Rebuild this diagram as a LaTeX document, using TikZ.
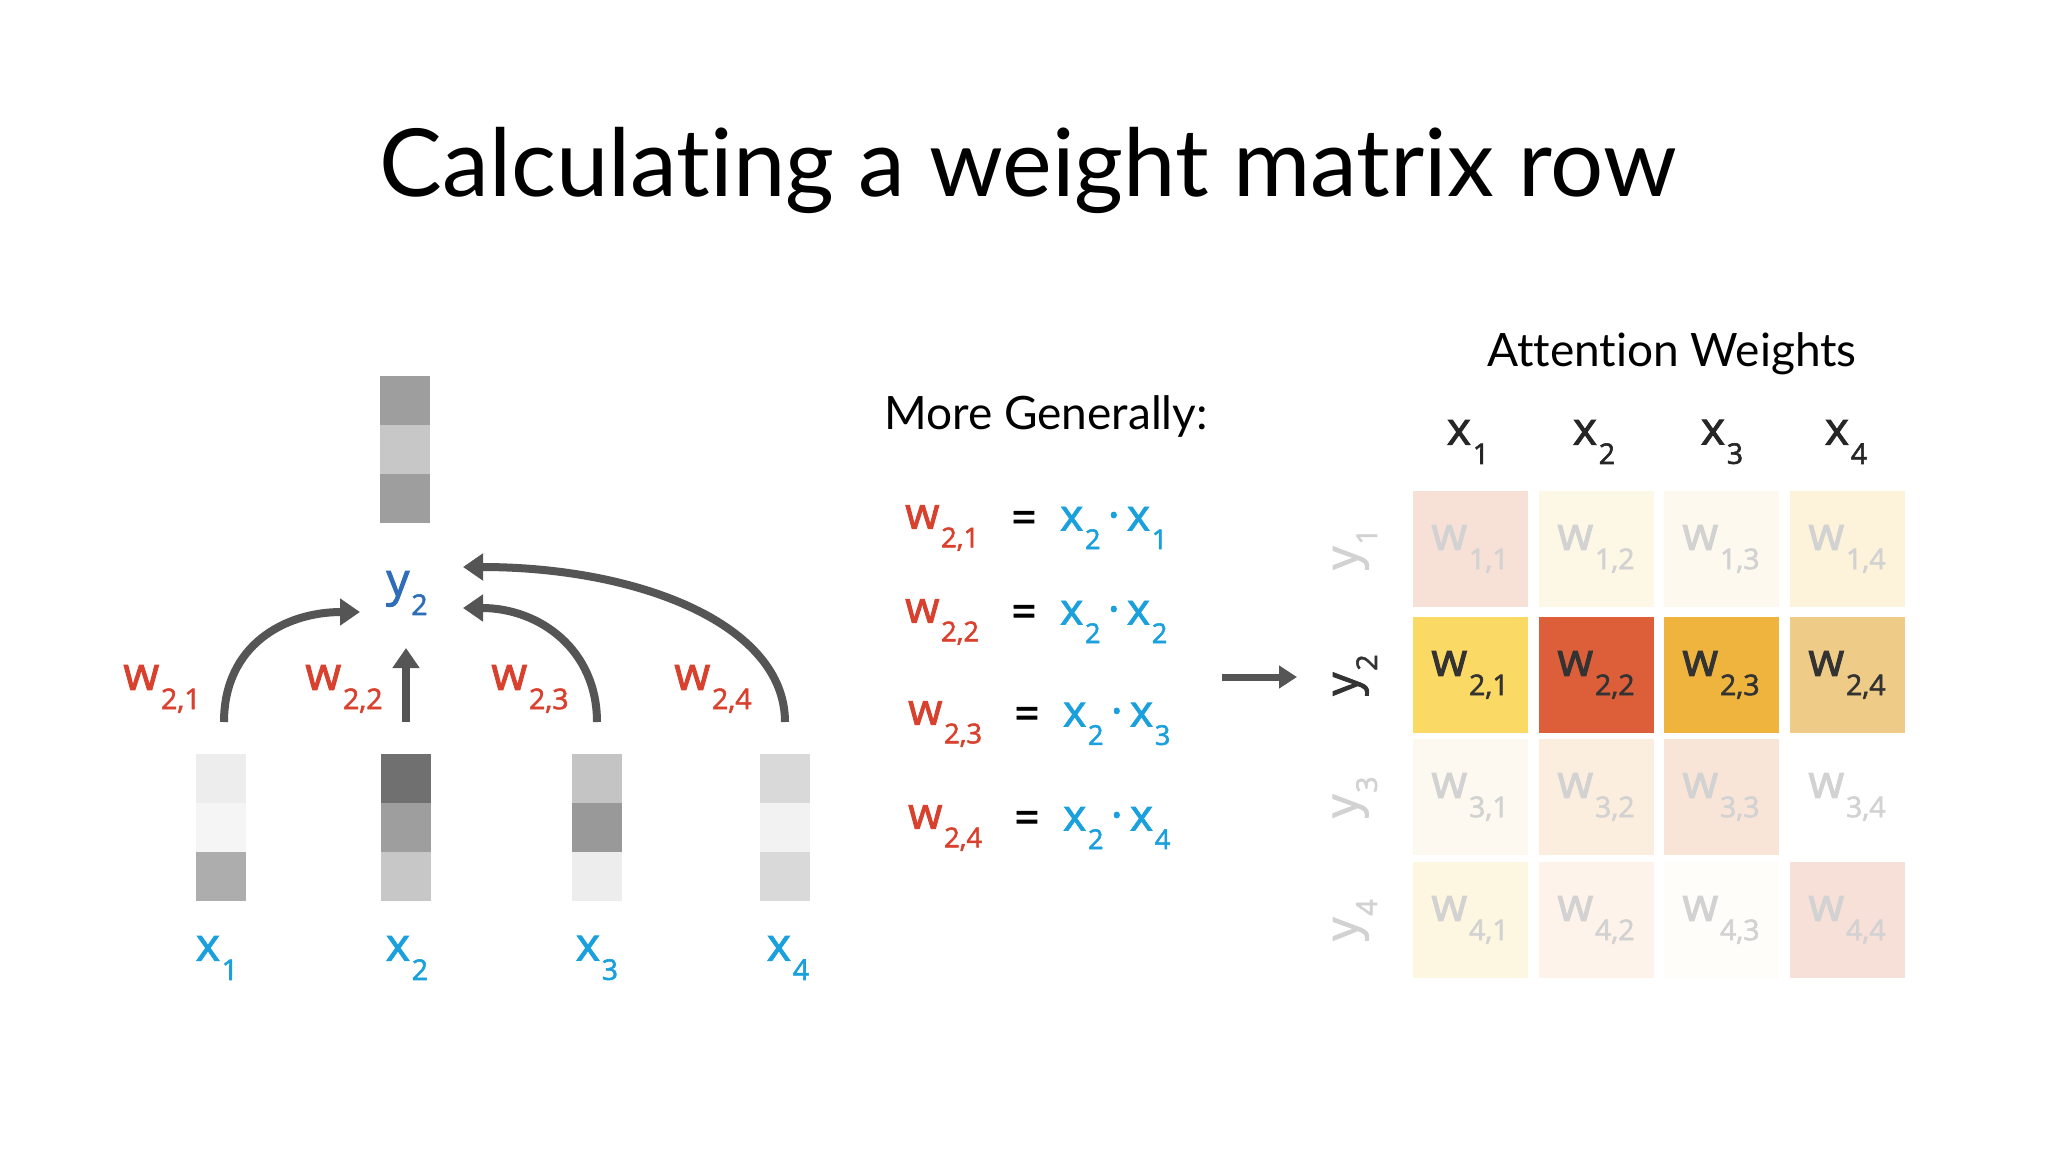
\documentclass[tikz,border=0pt]{standalone}
\usepackage{fontspec}
\usepackage{graphicx}
\setmainfont{Open Sans}
\newfontfamily\semib[FakeBold=2]{Open Sans}
\newfontfamily\titlefont[Ligatures=NoCommon]{Lato}
\usetikzlibrary{arrows.meta}
\definecolor{wred}{HTML}{D9412F}
\definecolor{xblue}{HTML}{1AA0DC}
\definecolor{yblue}{HTML}{2F6DB8}
\definecolor{arr}{HTML}{555555}
\definecolor{fade}{HTML}{D2D2D2}
\definecolor{dark}{HTML}{333333}
\newcommand\wsub[2]{#1\raisebox{-0.42em}{\kern0.04em\scalebox{0.62}{#2}}}
\tikzset{x=1pt,y=-1pt,
 cellg/.style={draw=none,minimum width=50pt,minimum height=49pt,inner sep=0pt},
 lbl/.style={font=\semib\fontsize{46}{50}\selectfont,inner sep=0pt},
 wl/.style={lbl,text=wred},
 xl/.style={lbl,text=xblue},
 eq/.style={font=\semib\fontsize{44}{48}\selectfont,inner sep=0pt},
 curv/.style={draw=arr,line width=8pt,-{Triangle[width=26pt,length=20pt]}},
 mcell/.style={minimum width=115pt,minimum height=116pt,inner sep=0pt,font=\semib\fontsize{46}{50}\selectfont},
 hdr/.style={font=\semib\fontsize{46}{50}\selectfont,text=black!85,inner sep=0pt}}
\begin{document}
\begin{tikzpicture}
\useasboundingbox[fill=white] (0,0) rectangle (2048,1152);
\node[font=\titlefont\fontsize{94}{110}\selectfont] (title) at (1028,170) {Calculating a weight matrix row};
% top column
\node[cellg,fill=black!38] (t1) at (405,400) {};
\node[cellg,fill=black!22] (t2) at (405,449) {};
\node[cellg,fill=black!38] (t3) at (405,498) {};
\node[lbl,text=yblue] (y2) at (407,593) {\wsub{y}{2}};
% bottom columns
\foreach \n/\cx/\a/\b/\c in {1/221/7/4/32, 2/406/56/38/22, 3/597/23/40/7, 4/785/15/5/15}{
 \node[cellg,fill=black!\a] (c\n a) at (\cx,778) {};
 \node[cellg,fill=black!\b] (c\n b) at (\cx,827) {};
 \node[cellg,fill=black!\c] (c\n c) at (\cx,876) {};
}
\node[xl] (x1) at (217,958) {\wsub{x}{1}};
\node[xl] (x2) at (407,958) {\wsub{x}{2}};
\node[xl] (x3) at (597,958) {\wsub{x}{3}};
\node[xl] (x4) at (788,958) {\wsub{x}{4}};
\coordinate (s1) at (224,722); \coordinate (s2) at (406,722);
\coordinate (s3) at (597,722); \coordinate (s4) at (785,722);
\coordinate (e1) at (360,612); \coordinate (e2) at (406,648);
\coordinate (e3) at (463,608); \coordinate (e4) at (463,567);
\draw[curv] (s1) .. controls (224,645) and (285,612) .. (e1);
\draw[curv] (s2) -- (e2);
\draw[curv] (s3) .. controls (597,650) and (540,608) .. (e3);
\draw[curv] (s4) .. controls (785,625) and (640,567) .. (e4);
\node[wl] (w1) at (162,689) {\wsub{w}{2,1}};
\node[wl] (w2) at (344,689) {\wsub{w}{2,2}};
\node[wl] (w3) at (530,689) {\wsub{w}{2,3}};
\node[wl] (w4) at (713,689) {\wsub{w}{2,4}};
% middle
\node[font=\titlefont\fontsize{46}{50}\selectfont] (mg) at (1046,416) {More Generally:};
\foreach \r/\yy/\xo in {1/528/0,2/622/0,3/724/3,4/828/3}{
 \node[eq,text=wred,anchor=west] (ew\r) at (905+\xo,\yy) {\wsub{w}{2,\r}};
 \node[eq] (eqs\r) at (1024+\xo,\yy-6) {=};
 \node[eq,text=xblue,anchor=west] (ex\r) at (1060+\xo,\yy) {\wsub{x}{2}\,·\,\wsub{x}{\r}};
}
\coordinate (ma) at (1222,677);
\coordinate (mb) at (1297,677);
\draw[draw=arr,line width=7pt,-{Triangle[width=22pt,length=18pt]}] (ma) -- (mb);
% matrix
\node[font=\titlefont\fontsize{46}{50}\selectfont] (aw) at (1672,354) {Attention Weights};
\foreach \c/\cx in {1/1468,2/1594,3/1722,4/1846}{
 \node[hdr] (h\c) at (\cx,442) {\wsub{x}{\c}};
}
\foreach \r/\ry/\tc in {1/549/fade,2/675/dark,3/797/fade,4/920/fade}{
 \node[hdr,rotate=90,text=\tc] (r\r) at (1355,\ry) {\wsub{y}{\r}};
}
\foreach \r/\ry/\tc/\ca/\cb/\cc/\cd in {1/549/fade/F7E1D7/FDF7E6/FDF9EE/FDF3DA, 2/675/dark/FBD965/DD5F3A/EFB43E/EECB86, 3/797/fade/FDF8F0/FBEEDE/F9E5D8/FFFFFF, 4/920/fade/FDF6E0/FDF3EA/FEFDFA/F7E0D8}{
 \foreach \c/\cx/\col in {1/1478,2/1604,3/1729,4/1855}{
 }
 \foreach \c/\cx/\col in {1/1470/\ca,2/1596/\cb,3/1721/\cc,4/1847/\cd}{
  \definecolor{tmpc}{HTML}{\col}
  \node[mcell,fill=tmpc,text=\tc] (m\r\c) at (\cx,\ry) {\wsub{w}{\r,\c}};
 }
}
\end{tikzpicture}
\end{document}
